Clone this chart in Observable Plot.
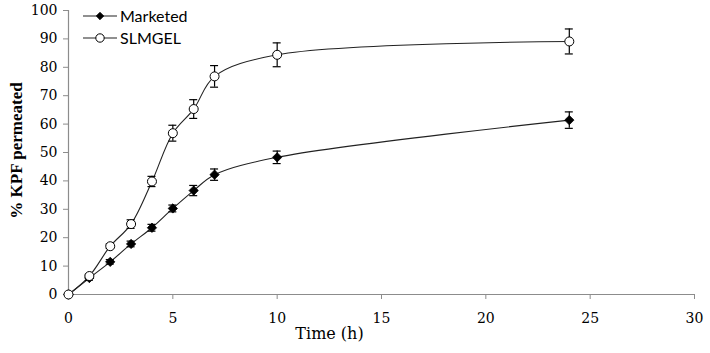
<!DOCTYPE html>
<html>
<head>
<meta charset="utf-8">
<script src="https://cdn.jsdelivr.net/npm/d3@7"></script>
<script src="https://cdn.jsdelivr.net/npm/@observablehq/plot@0.6"></script>
<style>
  html, body { margin: 0; padding: 0; background: #fff; }
  #chart { width: 710px; height: 353px; }
</style>
</head>
<body>
<div id="chart"></div>
<script>
const time = [0, 1, 2, 3, 4, 5, 6, 7, 10, 24];
const marketed = [0, 5.8, 11.5, 17.8, 23.5, 30.3, 36.6, 42.2, 48.3, 61.4];
const marketedErr = [0, 0.8, 0.8, 1.0, 1.2, 1.2, 1.8, 2.0, 2.2, 2.9];
const slmgel = [0, 6.5, 17.0, 24.8, 39.8, 56.8, 65.3, 76.8, 84.4, 89.1];
const slmgelErr = [0, 0.6, 0.8, 1.5, 1.8, 2.8, 3.3, 3.8, 4.2, 4.4];
const xTicks = [0, 5, 10, 15, 20, 25, 30];
const yTicks = [0, 10, 20, 30, 40, 50, 60, 70, 80, 90, 100];
const seriesNames = ["Marketed", "SLMGEL"];

const mk = time.map((t, i) => ({t, v: marketed[i], e: marketedErr[i]}));
const sl = time.map((t, i) => ({t, v: slmgel[i], e: slmgelErr[i]}));

const tickFont = "'DejaVu Serif', 'Liberation Serif', serif";
const timesFont = "'Liberation Serif', 'DejaVu Serif', serif";
const axisColor = "#8c8c8c";

const errorBars = (data) => {
  const d = data.filter(p => p.e > 0);
  return [
    Plot.ruleX(d, {x: "t", y1: p => p.v - p.e, y2: p => p.v + p.e, stroke: "#000", strokeWidth: 1.2}),
    Plot.ruleY(d, {y: p => p.v - p.e, x1: "t", x2: "t", stroke: "#000", strokeWidth: 1.2, insetLeft: -4, insetRight: -4}),
    Plot.ruleY(d, {y: p => p.v + p.e, x1: "t", x2: "t", stroke: "#000", strokeWidth: 1.2, insetLeft: -4, insetRight: -4})
  ];
};

const chart = Plot.plot({
  width: 710,
  height: 353,
  marginLeft: 68,
  marginRight: 16,
  marginTop: 10,
  marginBottom: 59,
  style: {fontFamily: tickFont, fontSize: "14px", color: "#000", background: "#fff"},
  x: {type: "linear", domain: [0, 30]},
  y: {type: "linear", domain: [0, 100]},
  marks: [
    Plot.axisX({ticks: xTicks, tickSize: 5, tickPadding: 14, stroke: axisColor, fontSize: 14, label: null}),
    Plot.axisY({ticks: yTicks, tickSize: 5, tickPadding: 6, stroke: axisColor, fontSize: 14, label: null}),
    Plot.ruleY([0], {stroke: axisColor, strokeWidth: 1.2}),
    Plot.ruleX([0], {stroke: axisColor, strokeWidth: 1.2}),
    Plot.line(mk, {x: "t", y: "v", curve: "catmull-rom", stroke: "#222", strokeWidth: 1.1}),
    Plot.line(sl, {x: "t", y: "v", curve: "catmull-rom", stroke: "#222", strokeWidth: 1.1}),
    ...errorBars(mk),
    ...errorBars(sl),
    Plot.dot(mk, {x: "t", y: "v", symbol: "diamond2", r: 4.2, fill: "#000", stroke: "#000", strokeWidth: 0.8}),
    Plot.dot(sl, {x: "t", y: "v", symbol: "circle", r: 4.5, fill: "#fff", stroke: "#000", strokeWidth: 1}),
    Plot.text(["Time (h)"], {frameAnchor: "bottom", dx: -52, dy: 44, fontSize: 16, fontFamily: tickFont, fill: "#000"}),
    Plot.text(["% KPF permeated"], {frameAnchor: "left", textAnchor: "middle", dx: -52, dy: -2, rotate: -90, fontSize: 17, fontWeight: "bold", fontFamily: timesFont, fill: "#000"})
  ]
});

// legend drawn inside the plot's top-left corner
const svg = d3.select(chart);
const lg = svg.append("g").attr("text-anchor", "start");
seriesNames.forEach((name, i) => {
  const yy = 16 + i * 22;
  lg.append("line").attr("x1", 83).attr("x2", 117).attr("y1", yy).attr("y2", yy).attr("stroke", "#222").attr("stroke-width", 1.1);
  if (i === 0) {
    lg.append("path").attr("d", d3.symbol(d3.symbolDiamond2, 36)()).attr("transform", `translate(100,${yy})`).attr("fill", "#000").attr("stroke", "#000").attr("stroke-width", 0.8);
  } else {
    lg.append("circle").attr("cx", 100).attr("cy", yy).attr("r", 4.2).attr("fill", "#fff").attr("stroke", "#000");
  }
  lg.append("text").attr("x", 120).attr("y", yy).attr("dy", "0.35em").attr("text-anchor", "start").attr("font-family", "Lato, 'Open Sans', sans-serif").attr("font-size", 16).attr("fill", "#000").text(name);
});
document.getElementById("chart").appendChild(chart);
</script>
</body>
</html>
